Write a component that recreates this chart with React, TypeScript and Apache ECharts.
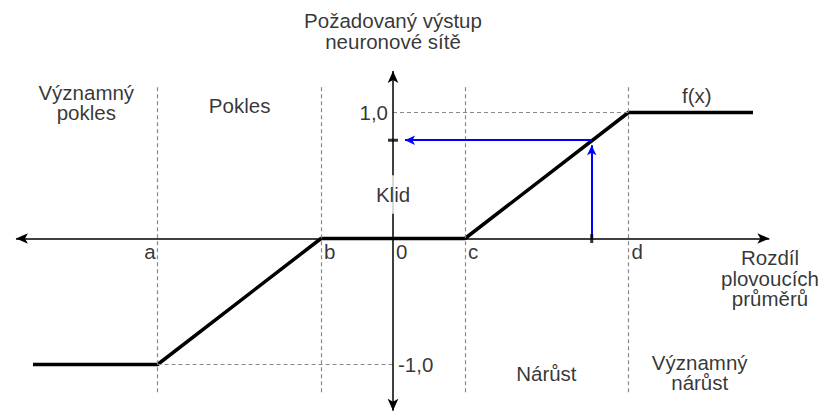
import React, { useEffect, useRef } from 'react';
import * as echarts from 'echarts';

// ---- data (in diagram units) ----
const fxX = [-5, -3.27, -1, 1, 3.27, 5];
const fxY = [-1, -1, 0, 0, 1, 1];
const pointNames = ['a', 'b', '0', 'c', 'd'];
const pointX = [-3.27, -1, 0, 1, 3.27];
const guideX = [-3.27, -1, 1, 3.27];
const guideY = [-1.22, 1.22];
const zoneNames = ['Významný\npokles', 'Pokles', 'Klid', 'Nárůst', 'Významný\nnárůst'];
const zoneX = [-4.26, -2.13, 0, 2.13, 4.26];
const zoneY = [1.078, 1.056, 0.35, -1.07, -1.065];
const levelNames = ['1,0', '-1,0'];
const levelY = [1, -1];
const sampleX = 2.76;
const sampleY = 0.78;
const axisXRange = [-5.32, 5.31];
const axisYRange = [-1.415, 1.377];
const yTitle = 'Požadovaný výstup\nneuronové sítě';
const yTitlePos = [0, 1.647];
const xTitle = 'Rozdíl\nplovoucích\nprůměrů';
const xTitlePos = [5.236, -0.317];
const fLabel = 'f(x)';
const fLabelPos = [4.22, 1.133];

// ---- layout ----
const W = 824;
const H = 418;
const ORIGIN = [393, 238.5];
const PX_X = 72;
const PX_Y = 126;
const ARROW = [8, 12];
const SMALL_ARROW = [7, 10];
const FONT = '"Liberation Sans", Arial, sans-serif';

export default function App() {
  const ref = useRef<HTMLDivElement>(null);
  useEffect(() => {
    if (!ref.current) return;
    const chart = echarts.init(ref.current, null, { renderer: 'svg' });
    const hx = (px: number) => px / PX_X;
    const hy = (px: number) => px / PX_Y;

    const baseText = {
      show: true,
      position: [0, 0],
      fontFamily: FONT,
      fontSize: 20.5,
      lineHeight: 20.5,
      color: '#000',
      verticalAlign: 'middle',
    };
    const labels: any[] = [];
    const addLabel = (text: string, x: number, y: number, extra: any = {}) =>
      labels.push({ value: [x, y], label: { ...baseText, align: 'center', formatter: text, ...extra } });

    addLabel(yTitle, yTitlePos[0], yTitlePos[1]);
    addLabel(xTitle, xTitlePos[0], xTitlePos[1]);
    addLabel(fLabel, fLabelPos[0], fLabelPos[1]);
    zoneNames.forEach((n, i) =>
      addLabel(n, zoneX[i], zoneY[i], n === 'Klid' ? { backgroundColor: '#fff', padding: [9, 2] } : {})
    );
    pointNames.forEach((n, i) =>
      addLabel(n, pointX[i], 0, i === 0 ? { align: 'right', offset: [-2, 13] } : { align: 'left', offset: [3, 13] })
    );
    addLabel(levelNames[0], 0, levelY[0], { align: 'right', offset: [-5, 0] });
    addLabel(levelNames[1], 0, levelY[1], { align: 'left', offset: [5, 0] });

    const dashStyle = { color: '#8a8a8a', width: 1.2, type: [4, 3] };
    const guides: any[] = guideX.map((x) => [{ coord: [x, guideY[0]] }, { coord: [x, guideY[1]] }]);
    guides.push([{ coord: [0, levelY[0]] }, { coord: [pointX[4], levelY[0]] }]);
    guides.push([{ coord: [pointX[0], levelY[1]] }, { coord: [0, levelY[1]] }]);

    const axes = [
      [
        { coord: [axisXRange[0] + hx(ARROW[1] / 2), 0] },
        { coord: [axisXRange[1] - hx(ARROW[1] / 2), 0] },
      ],
      [
        { coord: [0, axisYRange[0] + hy(ARROW[1] / 2)] },
        { coord: [0, axisYRange[1] - hy(ARROW[1] / 2)] },
      ],
    ];

    const blue = [
      [
        { coord: [sampleX, 0], symbol: 'none' },
        { coord: [sampleX, sampleY - hy(SMALL_ARROW[1] / 2)], symbol: 'arrow' },
      ],
      [
        { coord: [sampleX, sampleY], symbol: 'none' },
        { coord: [hx(7 + SMALL_ARROW[1] / 2), sampleY], symbol: 'arrow' },
      ],
    ];

    const noLabel = { show: false };
    chart.setOption({
      animation: false,
      grid: { left: 0, right: 0, top: 0, bottom: 0 },
      xAxis: {
        type: 'value',
        min: -ORIGIN[0] / PX_X,
        max: (W - ORIGIN[0]) / PX_X,
        show: false,
      },
      yAxis: {
        type: 'value',
        min: -(H - ORIGIN[1]) / PX_Y,
        max: ORIGIN[1] / PX_Y,
        show: false,
      },
      series: [
        {
          type: 'line',
          data: [],
          z: 1,
          silent: true,
          markLine: {
            silent: true,
            symbol: ['none', 'none'],
            label: noLabel,
            lineStyle: dashStyle,
            emphasis: { disabled: true },
            data: guides,
          },
        },
        {
          type: 'line',
          data: [],
          z: 2,
          silent: true,
          markLine: {
            silent: true,
            symbol: ['arrow', 'arrow'],
            symbolSize: ARROW,
            label: noLabel,
            lineStyle: { color: '#000', width: 1.5, type: 'solid' },
            itemStyle: { color: '#000' },
            emphasis: { disabled: true },
            data: axes,
          },
        },
        {
          type: 'line',
          z: 3,
          silent: true,
          showSymbol: false,
          symbol: 'none',
          lineStyle: { color: '#000', width: 3.5 },
          data: fxX.map((x, i) => [x, fxY[i]]),
        },
        {
          type: 'line',
          data: [],
          z: 4,
          silent: true,
          markLine: {
            silent: true,
            symbolSize: SMALL_ARROW,
            label: noLabel,
            lineStyle: { color: '#0000ff', width: 2, type: 'solid' },
            itemStyle: { color: '#0000ff' },
            emphasis: { disabled: true },
            data: blue,
          },
        },
        {
          type: 'scatter',
          z: 5,
          silent: true,
          symbol: 'rect',
          itemStyle: { color: '#000' },
          data: [
            { value: [sampleX, 0], symbolSize: [3, 9] },
            { value: [0, sampleY], symbolSize: [10, 3] },
          ],
        },
        {
          type: 'scatter',
          z: 6,
          silent: true,
          symbolSize: 0,
          data: labels,
        },
      ],
    });
    return () => chart.dispose();
  }, []);
  return <div ref={ref} style={{ position: 'absolute', left: 0, top: 0, width: W, height: H, background: '#fff' }} />;
}
